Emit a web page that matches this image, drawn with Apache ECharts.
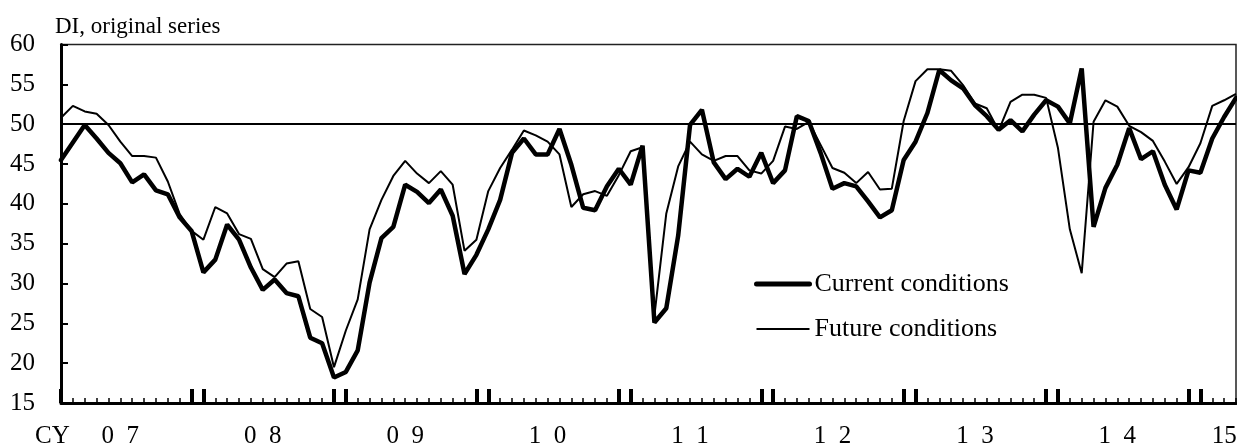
<!DOCTYPE html>
<html>
<head>
<meta charset="utf-8">
<script src="https://cdn.jsdelivr.net/npm/echarts@6/dist/echarts.min.js"></script>
<style>
  html, body { margin: 0; padding: 0; background: #fff; }
  #chart { width: 1237px; height: 445px; }
</style>
</head>
<body>
<div id="chart"></div>
<script>
// monthly, Jan 2007 .. Apr 2015
const months = [];
for (let y = 2007; y <= 2015; y++) {
  for (let m = 1; m <= 12; m++) {
    if (y === 2015 && m > 4) break;
    months.push(y + "/" + (m < 10 ? "0" + m : m));
  }
}

const current = [
  45.5, 47.7, 49.9, 48.2, 46.4, 45.1, 42.7, 43.7, 41.7, 41.2, 38.3, 36.6,
  31.4, 33.0, 37.4, 35.5, 32.0, 29.2, 30.5, 28.8, 28.4, 23.2, 22.5, 18.2,
  18.9, 21.6, 30.1, 35.7, 37.1, 42.4, 41.5, 40.1, 41.8, 38.5, 31.2, 33.6,
  36.8, 40.5, 46.4, 48.2, 46.2, 46.2, 49.4, 44.9, 39.5, 39.2, 42.2, 44.4,
  42.4, 47.3, 25.1, 26.9, 36.0, 49.9, 51.8, 45.2, 43.1, 44.4, 43.4, 46.4,
  42.6, 44.2, 51.0, 50.4, 46.4, 41.9, 42.6, 42.2, 40.3, 38.3, 39.2, 45.5,
  47.8, 51.4, 56.8, 55.5, 54.5, 52.4, 51.0, 49.3, 50.5, 49.1, 51.2, 53.0,
  52.2, 50.1, 57.0, 37.1, 42.0, 44.9, 49.5, 45.6, 46.6, 42.4, 39.3, 44.2,
  43.9, 48.2, 50.9, 53.3
];

const future = [
  50.8, 52.3, 51.6, 51.3, 49.9, 47.8, 46.0, 46.0, 45.8, 42.8, 38.7, 36.6,
  35.5, 39.6, 38.8, 36.2, 35.6, 31.8, 30.8, 32.5, 32.8, 26.8, 25.8, 19.5,
  24.1, 28.0, 36.8, 40.5, 43.5, 45.4, 43.8, 42.6, 44.1, 42.4, 34.1, 35.5,
  41.6, 44.5, 46.8, 49.2, 48.6, 47.8, 46.2, 39.6, 41.2, 41.6, 41.0, 43.6,
  46.6, 47.1, 26.0, 38.8, 44.7, 47.8, 46.2, 45.4, 46.0, 46.0, 44.2, 43.8,
  45.4, 49.7, 49.4, 50.3, 47.4, 44.5, 43.9, 42.6, 44.0, 41.8, 41.9, 50.4,
  55.4, 56.9, 56.9, 56.7, 54.9, 52.6, 52.0, 49.2, 52.8, 53.7, 53.7, 53.3,
  47.0, 36.8, 31.3, 50.3, 53.0, 52.2, 49.8, 49.0, 47.9, 45.3, 42.5, 44.6,
  47.6, 52.3, 53.0, 53.8
];

// year labels and the month index they sit under
const yearLabels = ["0\u20027", "0\u20028", "0\u20029", "1\u20020", "1\u20021", "1\u20022", "1\u20023", "1\u20024", "15"];
const yearLabelIdx = [5, 17, 29, 41, 53, 65, 77, 89, 98];

const FONT = "Liberation Serif";
const labelAt = {};
yearLabelIdx.forEach((idx, k) => { labelAt[idx] = yearLabels[k]; });

const chart = echarts.init(document.getElementById("chart"));
chart.setOption({
  animation: false,
  backgroundColor: "#fff",
  grid: {
    left: 61, right: 1, top: 44.5, bottom: 42,
    outerBoundsMode: "none",
    containLabel: false,
    show: true, borderColor: "#222", borderWidth: 1.5
  },
  graphic: [
    {
      type: "text", left: 55, top: 15,
      style: { text: "DI, original series", font: "23px '" + FONT + "'", fill: "#000" }
    },
    {
      type: "text", left: 35, top: 424,
      style: { text: "CY", font: "25px '" + FONT + "'", fill: "#000" }
    }
  ],
  legend: {
    orient: "vertical",
    left: 749, top: 266,
    itemWidth: 53, itemHeight: 14, itemGap: 19,
    itemStyle: { opacity: 0 },
    textStyle: { fontFamily: FONT, fontSize: 26, color: "#000", lineHeight: 26 },
    data: [
      { name: "Current conditions", lineStyle: { width: 5, cap: "round", color: "#000" } },
      { name: "Future conditions", lineStyle: { width: 2, color: "#000" } }
    ]
  },
  xAxis: [
    {
      type: "category",
      data: months,
      boundaryGap: false,
      axisLine: { onZero: false, lineStyle: { color: "#000", width: 3 } },
      axisTick: { inside: true, length: 5, interval: 0, lineStyle: { color: "#000", width: 1.5 } },
      axisLabel: {
        interval: (i) => labelAt[i] !== undefined,
        formatter: (v, i) => labelAt[i] || "",
        fontFamily: FONT, fontSize: 25, color: "#000", margin: 21
      },
      splitLine: { show: false }
    },
    {
      type: "category",
      data: months,
      boundaryGap: false,
      position: "bottom",
      axisLine: { show: false, onZero: false },
      axisTick: {
        inside: true, length: 14,
        interval: (i) => i % 12 === 0 || i % 12 === 11,
        lineStyle: { color: "#000", width: 4 }
      },
      axisLabel: { show: false },
      splitLine: { show: false }
    }
  ],
  yAxis: {
    type: "value",
    min: 15, max: 60, interval: 5,
    axisLine: { show: true, lineStyle: { color: "#000", width: 3 } },
    axisTick: { show: true, inside: true, length: 7, lineStyle: { color: "#000", width: 2 } },
    axisLabel: { fontFamily: FONT, fontSize: 25, color: "#000", margin: 26 },
    splitLine: { show: false }
  },
  series: [
    {
      name: "Current conditions",
      type: "line",
      data: current,
      xAxisIndex: 0,
      symbol: "none",
      lineStyle: { color: "#000", width: 4.5, cap: "round" },
      itemStyle: { color: "#000" },
      markLine: {
        silent: true,
        symbol: "none",
        label: { show: false },
        lineStyle: { color: "#000", width: 2, type: "solid" },
        data: [{ yAxis: 50 }]
      }
    },
    {
      name: "Future conditions",
      type: "line",
      data: future,
      xAxisIndex: 0,
      symbol: "none",
      lineStyle: { color: "#000", width: 2 },
      itemStyle: { color: "#000" }
    }
  ]
});
</script>
</body>
</html>
